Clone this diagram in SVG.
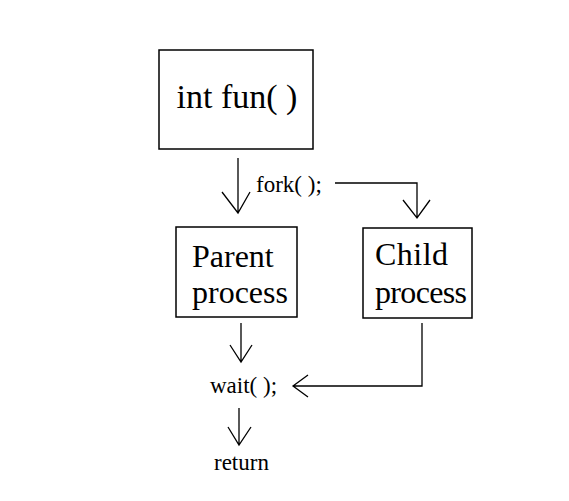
<svg xmlns="http://www.w3.org/2000/svg" width="569" height="501" viewBox="0 0 569 501">
<style>
.box{fill:#fff;stroke:#000;stroke-width:1.5}
.ln{fill:none;stroke:#000;stroke-width:1.3}
text{font-family:"Liberation Serif","Times New Roman",serif;fill:#000}
.big{font-size:32px}
.sm{font-size:23px}
</style>
<rect width="569" height="501" fill="#fff"/>
<g id="fun">
<rect class="box" x="159" y="50" width="154" height="99"/>
<text x="237" y="108" text-anchor="middle" font-size="34">int fun( )</text>
</g>
<g id="parent">
<rect class="box" x="176" y="227" width="121" height="90"/>
<text class="big" x="192" y="267">Parent</text>
<text class="big" x="192" y="303">process</text>
</g>
<g id="child">
<rect class="box" x="363" y="228" width="109" height="90"/>
<text class="big" x="375" y="265" textLength="73">Child</text>
<text class="big" x="375" y="303" textLength="92">process</text>
</g>
<g id="fork"><text class="sm" x="256" y="192">fork( );</text></g>
<g id="wait"><text class="sm" x="210" y="393">wait( );</text></g>
<g id="return"><text class="sm" x="214" y="470">return</text></g>
<g id="connectors">
<path class="ln" d="M238 158V213M222 192L238 213L250 192"/>
<path class="ln" d="M335 183H417V218M403 200L417 218L430 200"/>
<path class="ln" d="M241 323V362M230 345L241 362L252 345"/>
<path class="ln" d="M422 323V386H293M308 375L293 386L308 397"/>
<path class="ln" d="M239 408V445M228 427L239 445L251 427"/>
</g>
</svg>
